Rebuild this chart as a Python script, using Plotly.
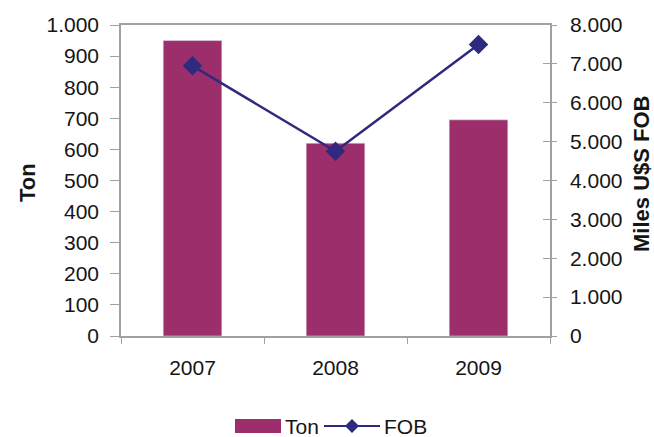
import plotly.graph_objects as go

years = ["2007", "2008", "2009"]
ton = [950, 620, 695]
fob = [6950, 4750, 7500]
left_ticks = [0, 100, 200, 300, 400, 500, 600, 700, 800, 900, 1000]
right_ticks = [0, 1000, 2000, 3000, 4000, 5000, 6000, 7000, 8000]

bar_col = "#9C2F6B"
line_col = "#2D2A80"
axcol = "#A0A0A0"
fs = 21

FW, FH = 654, 437
L, R, T, B = 121, 550, 25, 336
W, H = R - L, B - T
def px(x):
    return (x - L) / W
def py(y):
    return (B - y) / H

fig = go.Figure()
fig.add_trace(go.Bar(x=years, y=ton, name="Ton", marker_color=bar_col,
                     width=0.41, yaxis="y", showlegend=False))
fig.add_trace(go.Scatter(x=years, y=fob, name="FOB", mode="lines+markers",
                         line=dict(color=line_col, width=2.5),
                         marker=dict(symbol="diamond", size=15, color=line_col),
                         yaxis="y2", showlegend=False))
# invisible helper trace so the inner half of the right-axis cross ticks shows
fig.add_trace(go.Scatter(x=years, y=fob, yaxis="y3", mode="none",
                         showlegend=False, hoverinfo="skip"))

# manual legend (wide bar swatch like the original)
ly = 426
fig.add_shape(type="rect", xref="paper", yref="paper",
              x0=px(235), x1=px(281), y0=py(433), y1=py(419),
              fillcolor=bar_col, line_width=0)
fig.add_annotation(text="Ton", xref="paper", yref="paper",
                   x=px(283), y=py(ly), xanchor="left", yanchor="middle",
                   showarrow=False, font=dict(size=fs))
fig.add_shape(type="line", xref="paper", yref="paper",
              x0=px(324), x1=px(380), y0=py(ly), y1=py(ly),
              line=dict(color=line_col, width=2))
d = 7
fig.add_shape(type="path", xref="paper", yref="paper",
              path=(f"M {px(352 - d)} {py(ly)} L {px(352)} {py(ly - d)} "
                    f"L {px(352 + d)} {py(ly)} L {px(352)} {py(ly + d)} Z"),
              fillcolor=line_col, line_width=0)
fig.add_annotation(text="FOB", xref="paper", yref="paper",
                   x=px(382), y=py(ly), xanchor="left", yanchor="middle",
                   showarrow=False, font=dict(size=fs))

# axis titles
fig.add_annotation(text="<b>Ton</b>", xref="paper", yref="paper",
                   x=px(27), y=py(183), textangle=-90,
                   xanchor="center", yanchor="middle",
                   showarrow=False, font=dict(size=22))
fig.add_annotation(text="<b>Miles U$S FOB</b>", xref="paper", yref="paper",
                   x=px(641), y=py(174), textangle=-90,
                   xanchor="center", yanchor="middle",
                   showarrow=False, font=dict(size=22))

fig.update_layout(
    width=FW, height=FH,
    margin=dict(l=L, r=FW - R, t=T, b=FH - B, autoexpand=False),
    paper_bgcolor="white", plot_bgcolor="white",
    separators=",.",
    font=dict(family="Liberation Sans, Arial", size=fs, color="#151515"),
    showlegend=False,
    xaxis=dict(showline=True, linecolor=axcol, linewidth=1.5, mirror=True,
               ticks="outside", tickson="boundaries", ticklen=6, tickcolor=axcol,
               ticklabelstandoff=12,
               showgrid=False, tickfont=dict(size=fs), automargin=False),
    yaxis=dict(range=[0, 1000], tickvals=left_ticks, tickformat=",d",
               showline=True, linecolor=axcol, linewidth=1.5, ticks="outside",
               tickcolor=axcol, ticklen=9, ticklabelstandoff=7,
               showgrid=False, zeroline=False, automargin=False),
    yaxis2=dict(range=[0, 8000], tickvals=right_ticks, tickformat=",d",
                overlaying="y", side="right",
                showline=True, linecolor=axcol, linewidth=1.5, ticks="outside",
                tickcolor=axcol, ticklen=5, ticklabelstandoff=9,
                showgrid=False, zeroline=False, automargin=False),
    yaxis3=dict(range=[0, 8000], tickvals=right_ticks, overlaying="y",
                side="right", showline=False, ticks="inside", ticklen=7,
                tickcolor=axcol, showticklabels=False, showgrid=False,
                zeroline=False, automargin=False),
)

fig.write_html("out.html",
               config={"displayModeBar": False},
               post_script="document.body.style.margin='0';"
                           "document.body.style.overflow='hidden';")
